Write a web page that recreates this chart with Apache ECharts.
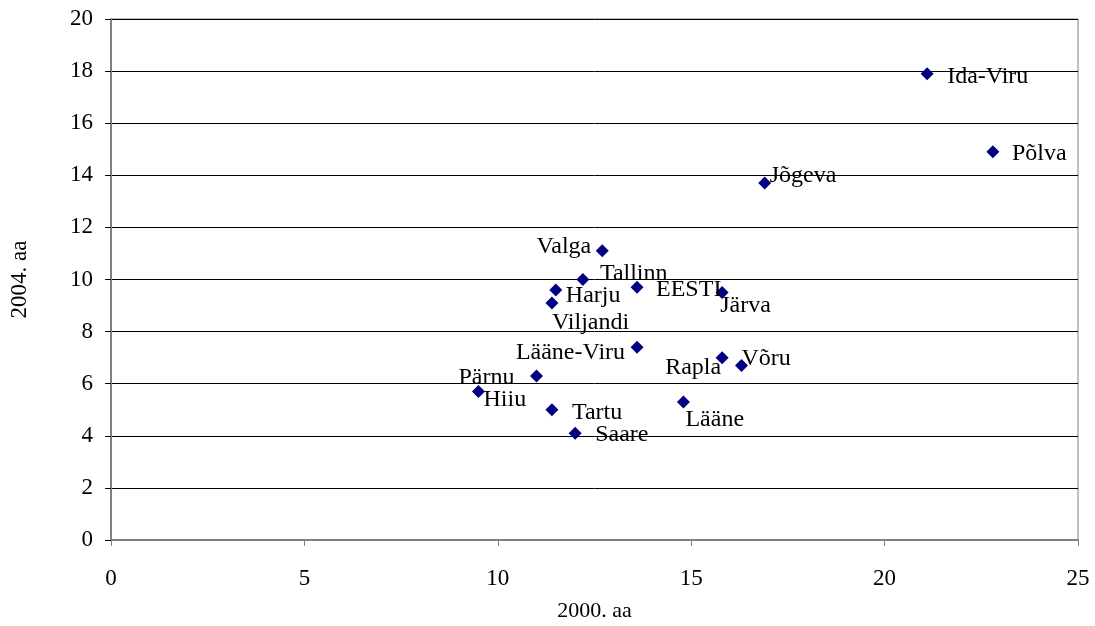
<!DOCTYPE html>
<html>
<head>
<meta charset="utf-8">
<script src="https://cdn.jsdelivr.net/npm/echarts@6/dist/echarts.min.js"></script>
<style>html,body{margin:0;padding:0;background:#fff}#c{width:1095px;height:626px}</style>
</head>
<body>
<div id="c"></div>
<script>
const names = ["Ida-Viru","Põlva","Jõgeva","Valga","Tallinn","Harju","Viljandi","EESTI","Järva","Lääne-Viru","Rapla","Võru","Pärnu","Hiiu","Tartu","Lääne","Saare"];
const x2000 = [21.1,22.8,16.9,12.7,12.2,11.5,11.4,13.6,15.8,13.6,15.8,16.3,11.0,9.5,11.4,14.8,12.0];
const y2004 = [17.9,14.9,13.7,11.1,10.0,9.6,9.1,9.7,9.5,7.4,7.0,6.7,6.3,5.7,5.0,5.3,4.1];
const xTicks = [0,5,10,15,20,25];
const yTicks = [0,2,4,6,8,10,12,14,16,18,20];

// label layout: [align, dx, dy] in px from the marker centre
const labelLayout = {
  "Ida-Viru":["left",20,3], "Põlva":["left",19,2], "Jõgeva":["left",5,-7],
  "Valga":["right",-11,-4], "Tallinn":["left",17,-6], "Harju":["left",10,6],
  "Viljandi":["left",0,20], "EESTI":["left",19,2], "Järva":["left",-2,13],
  "Lääne-Viru":["right",-12,5], "Rapla":["right",-1,10], "Võru":["left",0,-7],
  "Pärnu":["right",-22,2], "Hiiu":["left",5,8], "Tartu":["left",20,3],
  "Lääne":["left",2,18], "Saare":["left",20,2]
};

const SYM = 13;
const font = "'Liberation Serif','Times New Roman',serif";
const data = names.map((n,i)=>{
  const l = labelLayout[n];
  return {
    name:n, value:[x2000[i], y2004[i]],
    label:{show:true, position:[SYM/2 + l[1], SYM/2 + l[2]], align:l[0], verticalAlign:'middle',
      formatter:n, color:'#000', fontFamily:font, fontSize:24}
  };
});

const chart = echarts.init(document.getElementById('c'));
chart.setOption({
  animation:false,
  backgroundColor:'#fff',
  grid:{left:111, right:17, top:19, bottom:86, show:true, borderColor:'#808080', borderWidth:1,
    containLabel:false, outerBoundsMode:'none'},
  xAxis:{type:'value', min:0, max:25, interval:5,
    name:'2000. aa', nameLocation:'middle', nameGap:60,
    nameTextStyle:{fontFamily:font, fontSize:22, color:'#000'},
    axisLine:{show:true, lineStyle:{color:'#808080', width:2}},
    axisTick:{show:true, inside:false, length:6, lineStyle:{color:'#808080'}},
    axisLabel:{fontFamily:font, fontSize:23, color:'#000', margin:27,
      formatter:v=>xTicks.includes(v)?String(v):''},
    splitLine:{show:false}},
  yAxis:{type:'value', min:0, max:20, interval:2,
    name:'2004. aa', nameLocation:'middle', nameGap:80, nameRotate:90,
    nameTextStyle:{fontFamily:font, fontSize:23, color:'#000'},
    axisLine:{show:true, lineStyle:{color:'#808080', width:2}},
    axisTick:{show:true, inside:false, length:6, lineStyle:{color:'#000'}},
    axisLabel:{fontFamily:font, fontSize:23, color:'#000', margin:18,
      formatter:v=>yTicks.includes(v)?String(v):''},
    splitLine:{show:true, lineStyle:{color:'#000', width:1}}},
  series:[{
    type:'scatter', symbol:'diamond', symbolSize:SYM,
    itemStyle:{color:'#000080', opacity:1},
    labelLayout:{hideOverlap:false},
    data:data
  }]
});
</script>
</body>
</html>
